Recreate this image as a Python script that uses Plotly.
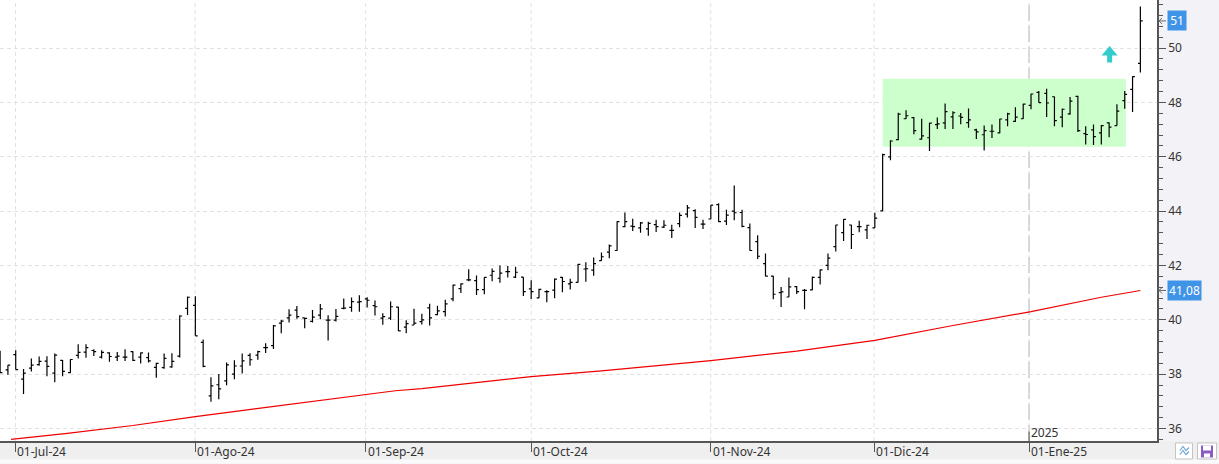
import plotly.graph_objects as go

open_ = [38.6,38.16,38.72,37.82,38.22,38.35,38.48,38.04,38.51,38.06,
         38.69,38.81,38.87,38.63,38.78,38.63,38.63,38.83,38.63,38.61,
         38.25,38.24,38.27,38.66,40.42,40.53,39.17,37.2,37.61,37.75,
         38.0,38.3,38.69,38.7,38.98,39.05,39.88,40.07,40.36,40.07,
         39.94,40.17,39.99,39.99,40.42,40.46,40.65,40.77,40.52,40.06,
         40.06,40.47,39.73,39.81,39.93,40.44,40.19,40.3,40.77,41.15,
         41.47,41.44,41.11,41.64,41.53,41.77,41.57,41.57,41.14,40.81,
         41.04,41.09,41.56,41.32,41.38,41.87,41.83,42.18,42.49,42.55,
         43.43,43.45,43.38,43.35,43.5,43.41,43.29,43.54,43.89,44.02,
         43.52,43.71,44.24,43.63,44.0,43.95,43.39,42.88,42.07,41.61,
         41.0,40.84,41.22,41.08,41.1,41.56,42.0,42.69,43.21,43.49,
         43.43,43.31,43.38,44.01,46.0,46.63,47.4,47.44,46.65,46.7,
         47.18,47.25,47.47,47.5,47.26,46.99,46.81,46.94,46.88,47.36,
         47.3,47.4,47.89,48.37,48.33,48.21,47.46,47.58,48.22,46.85,
         46.99,46.88,47.25,47.15,48.07,48.48,49.44]
high_ = [38.86,38.34,38.88,38.19,38.58,38.65,38.66,38.76,38.52,38.55,
         39.1,39.1,38.92,38.88,38.81,38.82,38.92,38.84,38.8,38.8,
         38.42,38.76,38.77,40.17,40.86,40.87,39.28,37.89,38.01,38.43,
         38.51,38.76,38.77,38.86,39.14,39.81,39.99,40.39,40.51,40.07,
         40.36,40.58,40.17,40.4,40.78,40.82,40.9,40.83,40.71,40.24,
         40.67,40.48,39.98,40.41,40.22,40.59,40.52,40.74,41.3,41.35,
         41.86,41.63,41.57,41.89,42.0,41.98,41.95,41.58,41.46,41.14,
         41.09,41.52,41.58,41.51,42.05,42.12,42.29,42.48,42.77,43.63,
         43.95,43.72,43.6,43.61,43.68,43.66,43.5,43.95,44.23,44.07,
         43.68,44.23,44.29,44.05,44.94,44.05,43.54,43.11,42.44,41.62,
         41.21,41.56,41.24,41.13,41.59,41.85,42.44,43.5,43.71,43.5,
         43.65,43.5,43.94,46.11,46.61,47.62,47.71,47.46,47.4,47.25,
         47.45,47.96,47.68,47.61,47.78,47.03,47.15,47.19,47.4,47.62,
         47.82,47.95,48.32,48.42,48.5,48.22,47.78,48.2,48.25,47.12,
         47.19,47.17,47.27,47.93,48.42,48.96,51.53]
low_ = [38.04,37.98,38.17,37.27,38.1,38.31,37.92,37.7,37.92,38.04,
        38.58,38.6,38.67,38.58,38.46,38.48,38.48,38.48,38.39,38.43,
        37.87,38.2,38.24,38.61,40.18,39.41,38.25,36.98,37.08,37.59,
        37.81,38.02,38.31,38.53,38.78,38.93,39.51,39.9,40.04,39.69,
        39.9,40.02,39.24,39.94,40.39,40.3,40.3,40.45,40.16,39.82,
        39.99,39.59,39.51,39.81,39.83,39.79,40.17,40.12,40.68,40.99,
        41.42,40.91,40.94,41.42,41.36,41.56,41.54,40.88,40.77,40.79,
        40.65,40.79,41.01,41.12,41.37,41.4,41.62,42.17,42.27,42.54,
        43.41,43.27,43.2,43.09,43.23,43.38,43.01,43.41,43.77,43.38,
        43.34,43.7,43.6,43.49,43.66,43.41,42.54,42.24,41.6,40.76,
        40.47,40.84,40.95,40.39,41.09,41.3,41.82,42.51,42.9,42.61,
        43.22,42.97,43.38,44.0,45.87,46.61,47.39,46.83,46.63,46.21,
        47.02,47.02,47.02,47.2,47.07,46.65,46.23,46.69,46.87,47.12,
        47.28,47.39,47.75,47.99,47.46,47.12,47.09,47.55,46.91,46.45,
        46.43,46.45,46.72,47.15,47.77,47.65,49.1]
close_ = [38.06,38.33,38.17,38.04,38.33,38.47,38.29,38.7,38.1,38.54,
          38.8,38.98,38.83,38.8,38.65,38.66,38.63,38.51,38.78,38.49,
          38.4,38.58,38.47,40.14,40.83,39.41,38.29,37.57,37.46,38.34,
          38.3,38.49,38.53,38.83,38.98,39.78,39.95,40.17,40.12,40.05,
          40.1,40.4,39.99,40.13,40.43,40.67,40.67,40.72,40.48,40.12,
          40.48,39.59,39.86,39.88,40.0,40.07,40.33,40.59,41.28,41.32,
          41.47,41.11,41.56,41.78,41.72,41.77,41.75,41.04,41.04,41.12,
          41.04,41.5,41.41,41.38,42.04,41.88,42.07,42.32,42.72,43.61,
          43.61,43.43,43.57,43.55,43.43,43.48,43.29,43.84,44.12,43.77,
          43.52,44.22,43.61,43.85,43.94,43.44,42.55,42.34,41.61,40.94,
          41.03,41.21,41.04,41.08,41.56,41.84,42.27,43.49,43.7,43.14,
          43.43,43.48,43.74,46.08,46.58,47.57,47.51,46.96,46.77,47.24,
          47.21,47.66,47.62,47.45,47.36,46.92,46.96,46.94,47.39,47.58,
          47.46,47.94,48.31,47.99,47.98,47.33,47.75,48.05,46.96,46.82,
          46.74,47.15,47.09,47.68,48.3,48.95,51.0]

ma_idx = [1.4,8.6,17,25,32.6,38,47,50.6,54,68,77,91,102,112,122,132,141,146]
ma_val = [35.6,35.82,36.11,36.44,36.72,36.92,37.27,37.39,37.47,37.91,38.12,38.5,38.85,39.24,39.79,40.3,40.83,41.08]

month_pos = [1.97,24.96,46.8,68,91,111.9,131.75]
month_lbl = ["01-Jul-24","01-Ago-24","01-Sep-24","01-Oct-24","01-Nov-24","01-Dic-24","01-Ene-25"]
zone_x = [113,144.15]
zone_y = [46.37,48.87]
last_close = 51
last_ma = 41.08

FONT = "Noto Sans"
W, H = 1219, 464
PW, PH = 1157, 441.5   # plot area in pixels
def px(v): return v / PW
def py(v): return 1 - v / PH

x = list(range(len(close_)))
fig = go.Figure()
fig.add_trace(go.Ohlc(x=x, open=open_, high=high_, low=low_, close=close_, tickwidth=0.3,
                      increasing=dict(line=dict(color="black", width=1.2)),
                      decreasing=dict(line=dict(color="black", width=1.2)),
                      showlegend=False))
fig.add_trace(go.Scatter(x=ma_idx, y=ma_val, mode="lines", line=dict(color="#f00000", width=1.2), showlegend=False))

shapes = []
# panels
shapes.append(dict(type="rect", xref="paper", yref="paper", x0=0, x1=px(W), y0=py(441.5), y1=py(460),
                   fillcolor="#efefef", line_width=0, layer="below"))
shapes.append(dict(type="rect", xref="paper", yref="paper", x0=0, x1=px(W), y0=py(460), y1=py(464),
                   fillcolor="#fafafa", line_width=0, layer="below"))
# month gridlines
for p in month_pos:
    shapes.append(dict(type="line", xref="x", yref="paper", x0=p, x1=p, y0=0, y1=1, layer="between",
                       line=dict(color="#e2e2e2", width=1, dash="4px,3px")))
# green zone
shapes.append(dict(type="rect", xref="x", yref="y", x0=zone_x[0], x1=zone_x[1], y0=zone_y[0], y1=zone_y[1],
                   fillcolor="#ccffcc", line_width=0, layer="between"))
# year separator
shapes.append(dict(type="line", xref="x", yref="paper", x0=month_pos[-1], x1=month_pos[-1], y0=0, y1=1, layer="between",
                   line=dict(color="#cfcfcf", width=1.5, dash="16px,5px")))
shapes.append(dict(type="line", xref="x", yref="paper", x0=month_pos[-1], x1=month_pos[-1], y0=0, y1=py(432),
                   line=dict(color="#555555", width=1)))
# arrow
shapes.append(dict(type="path", xref="x", yref="y", xsizemode="pixel", ysizemode="pixel",
                   xanchor=142, yanchor=50, fillcolor="#33cccc", line_width=0,
                   path="M 0.5 2 L 8.5 -7.5 L 3 -7.5 L 3 -14.5 L -2 -14.5 L -2 -7.5 L -7.5 -7.5 Z"))
# buttons
def rect(x0, y0, x1, y1, **kw):
    return dict(type="rect", xref="paper", yref="paper", x0=px(x0), x1=px(x1), y0=py(y0), y1=py(y1), **kw)
def poly(pts, color, width=1):
    d = "M " + " L ".join(f"{px(a):.5f} {py(b):.5f}" for a, b in pts)
    return dict(type="path", xref="paper", yref="paper", path=d, line=dict(color=color, width=width))
shapes.append(rect(1175.5, 443.5, 1192.5, 459.5, fillcolor="white", line=dict(color="#c4c4c4", width=1)))
shapes.append(rect(1197.5, 443.5, 1216.5, 459.5, fillcolor="white", line=dict(color="#c4c4c4", width=1)))
shapes.append(poly([(1180, 451), (1183, 447), (1186, 451), (1189, 448)], "#6fa8d8", 1.2))
shapes.append(poly([(1180, 455), (1183, 451), (1186, 455), (1189, 452)], "#6fa8d8", 1.2))
shapes.append(rect(1201, 446, 1213, 458, fillcolor="#8a5cc6", line_width=0))
shapes.append(rect(1203, 446, 1211, 451, fillcolor="white", line_width=0))
shapes.append(rect(1204, 454, 1210, 458, fillcolor="white", line_width=0))

anns = []
for p, t in zip(month_pos, month_lbl):
    anns.append(dict(x=p, xref="x", y=py(452.5), yref="paper", text=t, showarrow=False, xanchor="left",
                     yanchor="middle", xshift=0, font=dict(family=FONT, size=12, color="#333333")))
anns.append(dict(x=month_pos[-1], xref="x", y=py(432.5), yref="paper", text="2025", showarrow=False, xanchor="left",
                 yanchor="middle", xshift=0, font=dict(family=FONT, size=12, color="#333333")))
for val, txt, w in [(last_close, "51", 18), (last_ma, "41,08", 33)]:
    anns.append(dict(x=px(1167), xref="paper", y=val, yref="y", text=txt, showarrow=False, xanchor="left",
                     yanchor="middle", width=w, height=19, bgcolor="#3f94e8", align="center", borderpad=0,
                     font=dict(family=FONT, size=12, color="white")))
    # small pointer between the axis and the value box
    d = 0.11
    shapes.append(dict(type="path", xref="paper", yref="y", line=dict(color="#666666", width=1),
                       path=f"M {px(1166):.5f} {val} L {px(1159):.5f} {val} M {px(1162):.5f} {val+d} "
                            f"L {px(1159):.5f} {val} L {px(1162):.5f} {val-d}"))

fig.update_layout(
    width=W, height=H, margin=dict(l=0, r=W-PW, t=0, b=H-PH),
    paper_bgcolor="#f3f3f7", plot_bgcolor="white", showlegend=False, dragmode=False,
    shapes=shapes, annotations=anns,
    font=dict(family=FONT, size=12, color="#333333"),
    xaxis=dict(range=[-0.013, 148.13], rangeslider=dict(visible=False), showgrid=False, zeroline=False,
               tickmode="array", tickvals=month_pos, ticktext=[""]*len(month_pos),
               ticks="outside", ticklen=9, tickcolor="#555555", tickwidth=1,
               showline=True, linecolor="#555555", linewidth=1.5),
    yaxis=dict(range=[35.54, 51.77], side="right", tick0=36, dtick=2, showgrid=True, gridcolor="#e2e2e2",
               griddash="4px,3px", gridwidth=1, zeroline=False,
               ticks="outside", ticklen=7, tickcolor="#555555", tickwidth=1,
               showline=True, linecolor="#555555", linewidth=1.5,
               tickfont=dict(family=FONT, size=12, color="#333333"),
               minor=dict(dtick=0.4, tick0=36, ticks="outside", ticklen=4, tickcolor="#555555", tickwidth=1, showgrid=False)),
)
fig.write_html("out.html", config=dict(displayModeBar=False),
               post_script="document.body.style.margin='0';document.body.style.overflow='hidden';")
